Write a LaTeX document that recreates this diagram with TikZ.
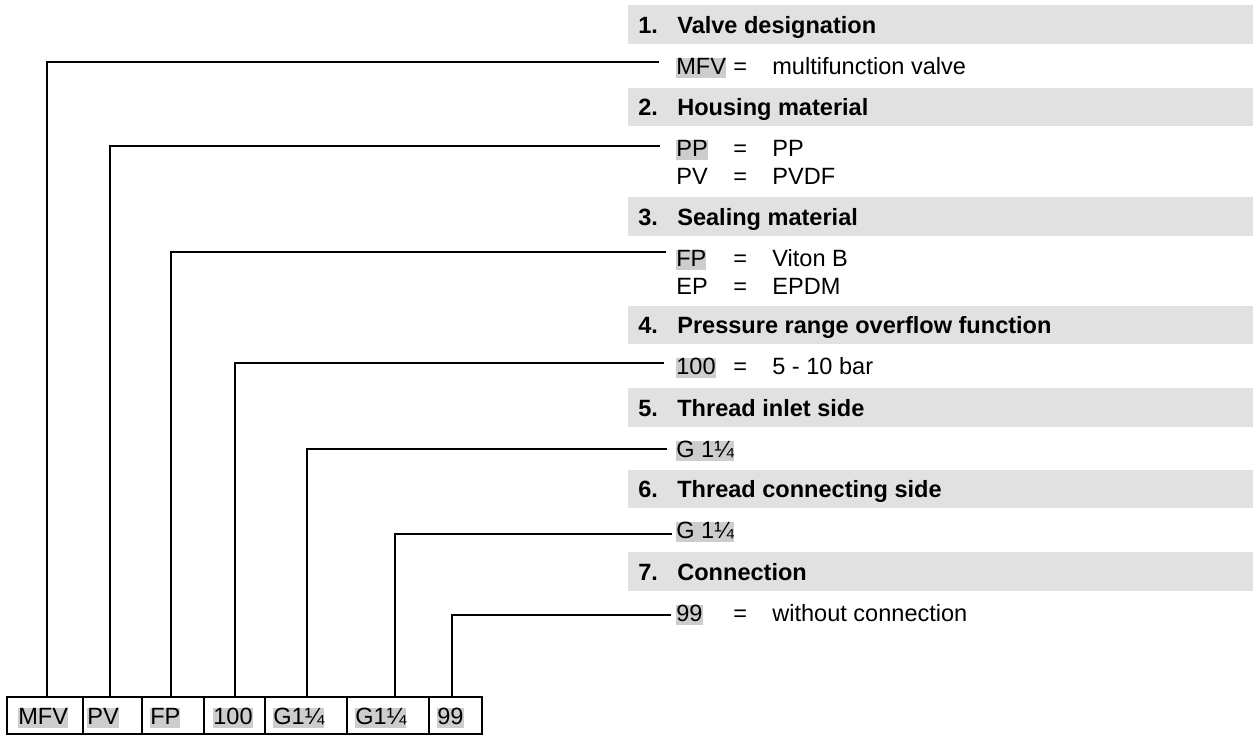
\documentclass[tikz,border=0pt]{standalone}
\usepackage{fontspec}
\setmainfont{Liberation Sans}
\usepackage{xcolor}
\definecolor{bargray}{HTML}{E1E1E1}
\definecolor{hlgray}{HTML}{CDCDCD}
\newcommand{\keyfont}{\fontsize{13.4}{16}\selectfont}

\begin{document}
\begin{tikzpicture}[x=0.02cm,y=-0.02cm,
  txt/.style={anchor=base west,inner sep=0pt,font=\keyfont,text height=0.905em,text depth=0.212em},
  hl/.style={txt,fill=hlgray},
  ttl/.style={anchor=base west,inner sep=0pt,font=\keyfont\bfseries},
  bar/.style={fill=bargray},
  lead/.style={line width=0.6pt}]
\useasboundingbox (0,0) rectangle (1253,735);

%heading bars
\fill[bar] (628,5) rectangle (1253,44);
\fill[bar] (628,88) rectangle (1253,126);
\fill[bar] (628,197) rectangle (1253,236);
\fill[bar] (628,306) rectangle (1253,344);
\fill[bar] (628,388) rectangle (1253,427);
\fill[bar] (628,470) rectangle (1253,508);
\fill[bar] (628,552) rectangle (1253,591);

\node[ttl] (n1) at (638,33) {1.};
\node[ttl] (h1) at (677,33) {Valve designation};
\node[ttl] (n2) at (638,115.5) {2.};
\node[ttl] (h2) at (677,115.5) {Housing material};
\node[ttl] (n3) at (638,225) {3.};
\node[ttl] (h3) at (677,225) {Sealing material};
\node[ttl] (n4) at (638,333.5) {4.};
\node[ttl] (h4) at (677,333.5) {Pressure range overflow function};
\node[ttl] (n5) at (638,416) {5.};
\node[ttl] (h5) at (677,416) {Thread inlet side};
\node[ttl] (n6) at (638,497.5) {6.};
\node[ttl] (h6) at (677,497.5) {Thread connecting side};
\node[ttl] (n7) at (638,580) {7.};
\node[ttl] (h7) at (677,580) {Connection};

%key values
\node[hl] (v1) at (676,74) {MFV};
\node[txt] (q1) at (733,74) {=};
\node[txt] (d1) at (772,74) {multifunction valve};

\node[hl] (v2) at (676,156) {PP};
\node[txt] (q2) at (733,156) {=};
\node[txt] (d2) at (772,156) {PP};
\node[txt] (v2b) at (676,184) {PV};
\node[txt] (q2b) at (733,184) {=};
\node[txt] (d2b) at (772,184) {PVDF};

\node[hl] (v3) at (676,266) {FP};
\node[txt] (q3) at (733,266) {=};
\node[txt] (d3) at (772,266) {Viton B};
\node[txt] (v3b) at (676,294) {EP};
\node[txt] (q3b) at (733,294) {=};
\node[txt] (d3b) at (772,294) {EPDM};

\node[hl] (v4) at (676,374) {100};
\node[txt] (q4) at (733,374) {=};
\node[txt] (d4) at (772,374) {5 - 10 bar};

\node[hl] (v5) at (676,457) {G 1¼};

\node[hl] (v6) at (676,538) {G 1¼};

\node[hl] (v7) at (676,621) {99};
\node[txt] (q7) at (733,621) {=};
\node[txt] (d7) at (772,621) {without connection};

%code boxes
\draw[line width=1.1pt] (7,697) rectangle (482,734);
\draw[line width=1.1pt] (83,697)--(83,734);
\draw[line width=1.1pt] (142,697)--(142,734);
\draw[line width=1.1pt] (204,697)--(204,734);
\draw[line width=1.1pt] (265,697)--(265,734);
\draw[line width=1.1pt] (347,697)--(347,734);
\draw[line width=1.1pt] (429,697)--(429,734);

\node[hl] (c1) at (18,724) {MFV};
\node[hl] (c2) at (87,724) {PV};
\node[hl] (c3) at (150,724) {FP};
\node[hl] (c4) at (213,724) {100};
\node[hl] (c5) at (273,724) {G1¼};
\node[hl] (c6) at (355,724) {G1¼};
\node[hl] (c7) at (437,724) {99};

%leader lines
\coordinate (t1) at (47,697);
\coordinate (t2) at (110,697);
\coordinate (t3) at (171,697);
\coordinate (t4) at (235,697);
\coordinate (t5) at (307,697);
\coordinate (t6) at (395,697);
\coordinate (t7) at (452,697);
\coordinate (e1) at (659,62);
\coordinate (e2) at (660,146);
\coordinate (e3) at (666,252);
\coordinate (e4) at (664,363);
\coordinate (e5) at (667,449);
\coordinate (e6) at (672,534);
\coordinate (e7) at (671,615);

\draw[lead] (t1) |- (e1);
\draw[lead] (t2) |- (e2);
\draw[lead] (t3) |- (e3);
\draw[lead] (t4) |- (e4);
\draw[lead] (t5) |- (e5);
\draw[lead] (t6) |- (e6);
\draw[lead] (t7) |- (e7);

\end{tikzpicture}
\end{document}
